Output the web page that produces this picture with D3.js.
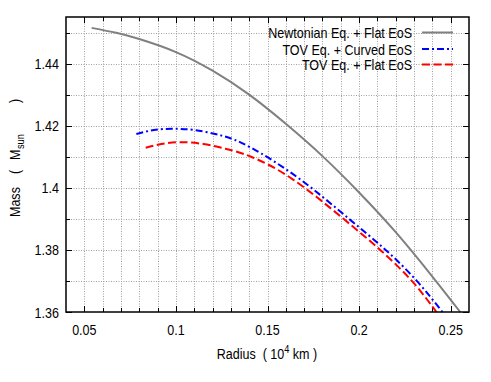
<!DOCTYPE html>
<html>
<head>
<meta charset="utf-8">
<script src="https://cdn.jsdelivr.net/npm/d3@7"></script>
<style>
  body { margin: 0; background: #fff; }
  text { font-family: "Liberation Sans", Arial, sans-serif; font-size: 15px; fill: #000; white-space: pre; }
</style>
</head>
<body>
<div id="chart"></div>
<script>
// Data
//////////////////////////////////////////////////////////////////////
var radiusNewton = [0.054, 0.0674, 0.08, 0.10, 0.12, 0.14, 0.16, 0.18, 0.20, 0.22, 0.24, 0.2552];
var massNewton   = [1.4515, 1.4499, 1.4479, 1.4437, 1.4377, 1.4300, 1.4206, 1.4102, 1.3985, 1.3857, 1.3714, 1.36];

var radiusCurved = [0.0784, 0.088, 0.098, 0.11, 0.125, 0.1407, 0.1672, 0.1945, 0.2145, 0.2315, 0.2455];
var massCurved   = [1.4173, 1.4186, 1.4190, 1.4186, 1.4168, 1.4130, 1.4030, 1.39, 1.38, 1.37, 1.36];

var radiusFlat = [0.0835, 0.092, 0.102, 0.115, 0.127, 0.141, 0.1636, 0.1915, 0.2115, 0.2288, 0.2422];
var massFlat   = [1.4129, 1.4141, 1.4147, 1.4141, 1.4126, 1.4100, 1.4028, 1.39, 1.38, 1.37, 1.36];

var seriesNames = ["Newtonian Eq. + Flat EoS", "TOV Eq. + Curved EoS", "TOV Eq. + Flat EoS"];
var xTicks = [0.05, 0.1, 0.15, 0.2, 0.25];
var yTicks = [1.36, 1.38, 1.4, 1.42, 1.44];

// Layout
//////////////////////////////////////////////////////////////////////
var width = 491, height = 382;
var margin = { top: 17, right: 22, bottom: 70, left: 66 };
var squeeze = 0.835; // gnuplot-like narrow glyphs

var x = d3.scaleLinear().domain([0.04, 0.26]).range([margin.left, width - margin.right]);
var y = d3.scaleLinear().domain([1.36, 1.455]).range([height - margin.bottom, margin.top]);

var svg = d3.select("#chart").append("svg")
  .attr("width", width)
  .attr("height", height);

var x0 = x.range()[0], x1 = x.range()[1];
var y0 = y.range()[0], y1 = y.range()[1];

// minor steps of 0.01 on both axes
var xMinor = d3.range(5, 26).map(d => d / 100);
var yMinor = d3.range(136, 146).map(d => d / 100);

// Grid
var grid = svg.append("g")
  .attr("stroke", "#a0a0a0")
  .attr("stroke-width", 1)
  .attr("stroke-dasharray", "1,1.5");
grid.selectAll("line.v")
  .data(xMinor)
  .join("line")
  .attr("class", "v")
  .attr("x1", d => Math.round(x(d)) + 0.5).attr("x2", d => Math.round(x(d)) + 0.5)
  .attr("y1", y0).attr("y2", y1);
grid.selectAll("line.h")
  .data(yMinor.filter(d => d > 1.36))
  .join("line")
  .attr("class", "h")
  .attr("y1", d => Math.round(y(d)) + 0.5).attr("y2", d => Math.round(y(d)) + 0.5)
  .attr("x1", x0).attr("x2", x1);

// Ticks (inward, mirrored on all sides)
function isMajorX(d) { return Math.abs(d * 20 - Math.round(d * 20)) < 1e-6; }
function isMajorY(d) { return Math.abs(d * 50 - Math.round(d * 50)) < 1e-6; }
var ticks = svg.append("g").attr("stroke", "#000").attr("stroke-width", 1);
xMinor.forEach(function (d) {
  var len = isMajorX(d) ? 6 : 4;
  var px = Math.round(x(d)) + 0.5;
  ticks.append("line").attr("x1", px).attr("x2", px).attr("y1", y0).attr("y2", y0 - len);
  ticks.append("line").attr("x1", px).attr("x2", px).attr("y1", y1).attr("y2", y1 + len);
});
yMinor.forEach(function (d) {
  var len = isMajorY(d) ? 6 : 4;
  var py = Math.round(y(d)) + 0.5;
  ticks.append("line").attr("y1", py).attr("y2", py).attr("x1", x0).attr("x2", x0 + len);
  ticks.append("line").attr("y1", py).attr("y2", py).attr("x1", x1).attr("x2", x1 - len);
});

// Curves
var line = d3.line()
  .x(d => x(d[0]))
  .y(d => y(d[1]))
  .curve(d3.curveNatural);

var plot = svg.append("g").attr("fill", "none").attr("stroke-width", 2);
plot.append("path")
  .attr("d", line(d3.zip(radiusNewton, massNewton)))
  .attr("stroke", "#808080");
plot.append("path")
  .attr("d", line(d3.zip(radiusCurved, massCurved)))
  .attr("stroke", "#0000ff")
  .attr("stroke-dasharray", "7,3,2,3");
plot.append("path")
  .attr("d", line(d3.zip(radiusFlat, massFlat)))
  .attr("stroke", "#ff0000")
  .attr("stroke-dasharray", "8,3.5");

// Frame
svg.append("rect")
  .attr("x", x0).attr("y", y1)
  .attr("width", x1 - x0).attr("height", y0 - y1)
  .attr("fill", "none")
  .attr("stroke", "#000")
  .attr("stroke-width", 1.5);

// Tick labels
svg.append("g").selectAll("text")
  .data(xTicks)
  .join("text")
  .attr("class", "sq")
  .attr("x", d => x(d))
  .attr("y", 335)
  .attr("text-anchor", "middle")
  .text(d => d3.format("")(d));

svg.append("g").selectAll("text")
  .data(yTicks)
  .join("text")
  .attr("class", "sq")
  .attr("x", 59)
  .attr("y", d => y(d) + 5.5)
  .attr("text-anchor", "end")
  .text(d => d3.format("")(d));

// Axis titles (narrowed by a transform, since they hold sub/superscripts)
var xt = svg.append("text")
  .attr("transform", `translate(267,359) scale(${squeeze},1)`)
  .attr("text-anchor", "middle");
xt.append("tspan").text("Radius  ( 10");
xt.append("tspan").attr("dy", -6).style("font-size", "11px").text("4");
xt.append("tspan").attr("dy", 6).text(" km )");

// gnuplot spreads the y title out a lot, so place its pieces one by one
var yt = svg.append("g")
  .attr("transform", "translate(19.5,217) rotate(-90)");
yt.append("text").attr("transform", `scale(${squeeze},1)`).text("Mass");
yt.append("text").attr("transform", `scale(${squeeze},1)`).attr("x", 43 / squeeze).text("(");
yt.append("text").attr("transform", `scale(${squeeze},1)`).attr("x", 57 / squeeze).text("M");
yt.append("text").attr("transform", `scale(${squeeze},1)`).attr("x", 68 / squeeze).attr("y", 4)
  .style("font-size", "11px").text("sun");
yt.append("text").attr("transform", `scale(${squeeze},1)`).attr("x", 114 / squeeze).text(")");

// Legend
var legendY = [32.5, 49, 64.5];
var legendStroke = ["#808080", "#0000ff", "#ff0000"];
var legendDash = [null, "7,3,2,3", "8,3.5"];
var legend = svg.append("g");
seriesNames.forEach(function (name, i) {
  legend.append("text")
    .attr("class", "sq")
    .attr("x", 412)
    .attr("y", legendY[i] + 5.5)
    .attr("text-anchor", "end")
    .text(name);
  legend.append("line")
    .attr("x1", 422).attr("x2", 453)
    .attr("y1", legendY[i]).attr("y2", legendY[i])
    .attr("stroke", legendStroke[i])
    .attr("stroke-width", 2)
    .attr("stroke-dasharray", legendDash[i]);
});

// narrow the glyphs like the original
svg.selectAll("text.sq").each(function () {
  var w = this.getComputedTextLength();
  d3.select(this)
    .attr("textLength", w * squeeze)
    .attr("lengthAdjust", "spacingAndGlyphs");
});
</script>
</body>
</html>
